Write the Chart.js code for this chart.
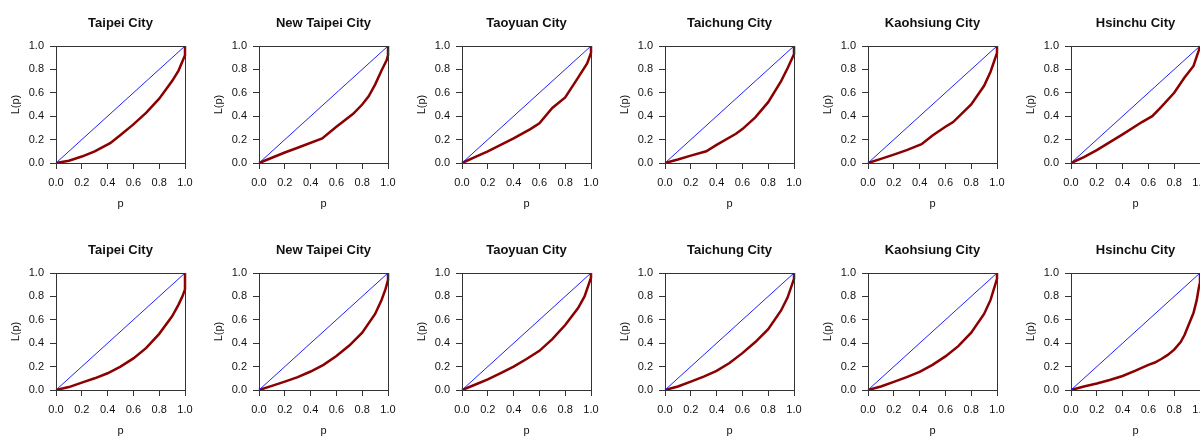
<!DOCTYPE html>
<html>
<head>
<meta charset="utf-8">
<script src="https://cdn.jsdelivr.net/npm/chart.js@4"></script>
<style>
  html, body { margin: 0; padding: 0; background: #fff; overflow: hidden; }
  #wrap { position: relative; width: 1200px; height: 438px; overflow: hidden; }
  .panel { position: absolute; }
</style>
</head>
<body>
<div id="wrap"></div>
<script>
const cityNames = ["Taipei City", "New Taipei City", "Taoyuan City", "Taichung City", "Kaohsiung City", "Hsinchu City"];
const tickValues = [0, 0.2, 0.4, 0.6, 0.8, 1.0];
const equalityP = [0, 1];
const equalityL = [0, 1];

// top row
const taipeiTopP = [0, 0.1, 0.2, 0.3, 0.42, 0.5, 0.6, 0.7, 0.8, 0.9, 0.95, 1.0, 1.0];
const taipeiTopL = [0, 0.02, 0.055, 0.1, 0.17, 0.24, 0.33, 0.43, 0.55, 0.7, 0.79, 0.92, 1.0];
const newTaipeiTopP = [0, 0.1, 0.2, 0.3, 0.49, 0.6, 0.73, 0.8, 0.85, 0.9, 0.95, 0.99, 1.0, 1.0];
const newTaipeiTopL = [0, 0.045, 0.09, 0.13, 0.21, 0.31, 0.42, 0.5, 0.57, 0.67, 0.79, 0.88, 0.92, 1.0];
const taoyuanTopP = [0, 0.1, 0.2, 0.3, 0.4, 0.53, 0.6, 0.7, 0.8, 0.9, 0.97, 1.0, 1.0];
const taoyuanTopL = [0, 0.05, 0.1, 0.155, 0.21, 0.29, 0.34, 0.47, 0.56, 0.73, 0.85, 0.94, 1.0];
const taichungTopP = [0, 0.1, 0.2, 0.32, 0.4, 0.55, 0.6, 0.7, 0.8, 0.9, 0.95, 1.0, 1.0];
const taichungTopL = [0, 0.03, 0.063, 0.1, 0.155, 0.25, 0.29, 0.39, 0.52, 0.7, 0.81, 0.93, 1.0];
const kaohsiungTopP = [0, 0.1, 0.2, 0.3, 0.415, 0.5, 0.6, 0.66, 0.8, 0.9, 0.95, 1.0, 1.0];
const kaohsiungTopL = [0, 0.035, 0.072, 0.11, 0.16, 0.235, 0.31, 0.35, 0.5, 0.66, 0.78, 0.94, 1.0];
const hsinchuTopP = [0, 0.1, 0.2, 0.4, 0.55, 0.63, 0.7, 0.8, 0.88, 0.95, 0.99, 1.0];
const hsinchuTopL = [0, 0.05, 0.11, 0.245, 0.35, 0.4, 0.48, 0.6, 0.73, 0.83, 0.96, 1.0];

// bottom row
const taipeiBotP = [0, 0.1, 0.2, 0.3, 0.4, 0.5, 0.6, 0.7, 0.8, 0.9, 0.95, 0.98, 1.0, 1.0];
const taipeiBotL = [0, 0.025, 0.063, 0.1, 0.143, 0.2, 0.27, 0.36, 0.48, 0.63, 0.73, 0.8, 0.86, 1.0];
const newTaipeiBotP = [0, 0.1, 0.2, 0.3, 0.4, 0.5, 0.6, 0.7, 0.8, 0.9, 0.95, 0.98, 1.0, 1.0];
const newTaipeiBotL = [0, 0.035, 0.072, 0.11, 0.158, 0.215, 0.29, 0.38, 0.49, 0.65, 0.77, 0.86, 0.94, 1.0];
const taoyuanBotP = [0, 0.1, 0.2, 0.3, 0.4, 0.5, 0.6, 0.7, 0.8, 0.9, 0.95, 1.0, 1.0];
const taoyuanBotL = [0, 0.045, 0.09, 0.145, 0.2, 0.265, 0.335, 0.435, 0.555, 0.7, 0.8, 0.96, 1.0];
const taichungBotP = [0, 0.1, 0.2, 0.3, 0.4, 0.5, 0.6, 0.7, 0.8, 0.9, 0.95, 1.0, 1.0];
const taichungBotL = [0, 0.03, 0.072, 0.115, 0.163, 0.23, 0.315, 0.41, 0.52, 0.68, 0.79, 0.95, 1.0];
const kaohsiungBotP = [0, 0.1, 0.2, 0.3, 0.4, 0.5, 0.6, 0.7, 0.8, 0.9, 0.95, 1.0, 1.0];
const kaohsiungBotL = [0, 0.03, 0.069, 0.11, 0.155, 0.215, 0.287, 0.375, 0.49, 0.65, 0.77, 0.95, 1.0];
const hsinchuBotP = [0, 0.1, 0.2, 0.3, 0.4, 0.5, 0.6, 0.65, 0.7, 0.75, 0.8, 0.85, 0.88, 0.95, 0.975, 0.99, 1.0, 1.0];
const hsinchuBotL = [0, 0.03, 0.055, 0.085, 0.12, 0.165, 0.215, 0.235, 0.265, 0.3, 0.345, 0.41, 0.47, 0.66, 0.77, 0.87, 0.92, 1.0];

const topRow = [
  [taipeiTopP, taipeiTopL], [newTaipeiTopP, newTaipeiTopL], [taoyuanTopP, taoyuanTopL],
  [taichungTopP, taichungTopL], [kaohsiungTopP, kaohsiungTopL], [hsinchuTopP, hsinchuTopL]
];
const bottomRow = [
  [taipeiBotP, taipeiBotL], [newTaipeiBotP, newTaipeiBotL], [taoyuanBotP, taoyuanBotL],
  [taichungBotP, taichungBotL], [kaohsiungBotP, kaohsiungBotL], [hsinchuBotP, hsinchuBotL]
];

const FONT = "'Liberation Sans', Arial, sans-serif";
const PANEL_W = 203;
const PANEL_H = 211;
const ROW_TOP = [0, 227];

const toPoints = (xs, ys) => xs.map((x, i) => ({ x: x, y: ys[i] }));

// box round the plot region, like R's box(), and the panel title centred over it
const frameBox = {
  id: "frameBox",
  afterDatasetsDraw(chart, args, opts) {
    const a = chart.chartArea;
    const ctx = chart.ctx;
    ctx.save();
    ctx.strokeStyle = "#333";
    ctx.lineWidth = 1;
    ctx.strokeRect(Math.round(a.left) + 0.5, Math.round(a.top) + 0.5,
      Math.round(a.right - a.left), Math.round(a.bottom - a.top));
    ctx.fillStyle = "#111";
    ctx.font = "bold 13px " + FONT;
    ctx.textAlign = "center";
    ctx.textBaseline = "middle";
    ctx.fillText(opts.text, (a.left + a.right) / 2, 23);
    ctx.restore();
  }
};

function axisOptions(titleText, isX) {
  return {
    type: "linear",
    min: 0,
    max: 1,
    afterBuildTicks: (scale) => {
      scale.ticks = tickValues.map((v) => ({ value: v }));
    },
    afterFit: (scale) => {
      if (isX) scale.height = 48;
      else scale.width = 56;
    },
    ticks: {
      color: "#111",
      font: { family: FONT, size: 11 },
      padding: isX ? 7 : 6,
      maxRotation: 0,
      autoSkip: false,
      callback: (v) => Number(v).toFixed(1)
    },
    grid: {
      display: true,
      drawOnChartArea: false,
      drawTicks: true,
      tickLength: 6,
      tickColor: "#333",
      color: "#333"
    },
    border: { display: false },
    title: {
      display: true,
      text: titleText,
      color: "#111",
      font: { family: FONT, size: 11 },
      padding: isX ? { top: 0, bottom: 0 } : { top: 9, bottom: 0 }
    }
  };
}

function makePanel(row, col, title, pValues, lValues) {
  const holder = document.createElement("div");
  holder.className = "panel";
  holder.style.left = col * PANEL_W + "px";
  holder.style.top = ROW_TOP[row] + "px";
  const canvas = document.createElement("canvas");
  canvas.width = PANEL_W;
  canvas.height = PANEL_H;
  holder.appendChild(canvas);
  document.getElementById("wrap").appendChild(holder);

  new Chart(canvas.getContext("2d"), {
    type: "scatter",
    data: {
      datasets: [
        {
          data: toPoints(equalityP, equalityL),
          showLine: true,
          borderColor: "#2020ff",
          borderWidth: 1,
          pointRadius: 0,
          clip: false
        },
        {
          data: toPoints(pValues, lValues),
          showLine: true,
          borderColor: "#8b0000",
          borderWidth: 2.5,
          tension: 0,
          pointRadius: 0,
          clip: false
        }
      ]
    },
    options: {
      responsive: false,
      animation: false,
      devicePixelRatio: 1,
      layout: { padding: { left: 0, right: 18, top: 46, bottom: 0 } },
      plugins: {
        legend: { display: false },
        tooltip: { enabled: false },
        title: { display: false },
        frameBox: { text: title }
      },
      scales: {
        x: axisOptions("p", true),
        y: axisOptions("L(p)", false)
      }
    },
    plugins: [frameBox]
  });
}

cityNames.forEach((name, i) => {
  makePanel(0, i, name, topRow[i][0], topRow[i][1]);
  makePanel(1, i, name, bottomRow[i][0], bottomRow[i][1]);
});
</script>
</body>
</html>
